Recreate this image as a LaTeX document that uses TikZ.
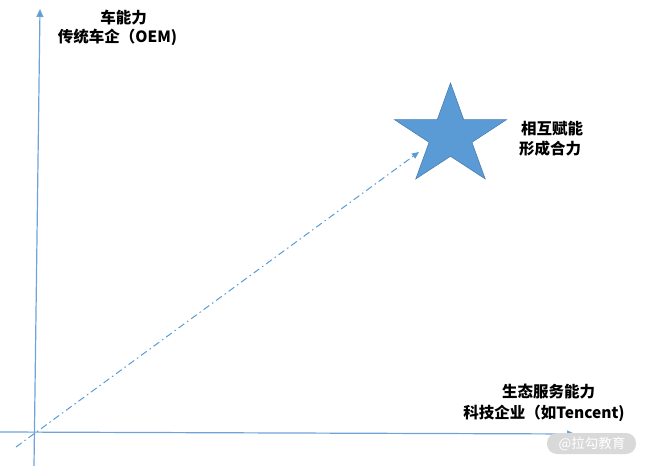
\documentclass[tikz,border=0pt]{standalone}
\usepackage{fontspec}
\newfontfamily\cjk{Noto Sans CJK SC}
\usetikzlibrary{arrows.meta}
\definecolor{axisblue}{HTML}{6FA3D8}
\definecolor{starfill}{HTML}{5B9BD5}
\definecolor{starline}{HTML}{4A7EB0}
\definecolor{wmgray}{HTML}{D9D9D9}
\begin{document}
\begin{tikzpicture}[x=1bp,y=-1bp,
  axis/.style={draw=axisblue, line width=1.2bp, -{Triangle[length=8bp,width=7bp,fill=starfill]}},
  dashdot/.style={draw=starfill, line width=1bp, dash pattern=on 7bp off 3.5bp on 1.5bp off 3.5bp, -{Triangle[length=7bp,width=6bp]}},
  lbl/.style={font=\cjk\bfseries\fontsize{15.5bp}{18bp}\selectfont, inner sep=0pt, text=black},
  starshape/.style={fill=starfill, draw=starline, line width=0.6bp},
  wmbox/.style={fill=wmgray, draw=none, rounded corners=10bp},
  wmtext/.style={font=\cjk\fontsize{13.5bp}{15bp}\selectfont, text=white, inner sep=0pt}]
\useasboundingbox (0,0) rectangle (647,466);
% axes
\coordinate (vb) at (34,466);
\coordinate (vt) at (40,9);
\coordinate (hl) at (0,432);
\coordinate (hr) at (575,434);
\draw[axis] (vb) -- (vt);
\draw[axis] (hl) -- (hr);
% star
\draw[starshape] (450.5,83) -- (463.7,119.6) -- (506.6,119.6) -- (471.9,142.3) -- (485.2,178.9)
  -- (450.5,156.25) -- (415.8,178.9) -- (429.1,142.3) -- (394.4,119.6) -- (437.3,119.6) -- cycle;
% dash-dot arrow
\coordinate (ds) at (16,447);
\coordinate (de) at (419,152);
\draw[dashdot] (ds) -- (de);
% labels
\node[lbl] (ya) at (123.5,18) {车能力};
\node[lbl] (yb) at (117.5,37) {传统车企（OEM)};
\node[lbl] (sa) at (552,129) {相互赋能};
\node[lbl] (sb) at (550,149) {形成合力};
\node[lbl] (xa) at (548.5,392) {生态服务能力};
\node[lbl] (xb) at (544,413) {科技企业（如Tencent)};
% watermark
\path[wmbox] (547,433) rectangle (636,454);
\node[wmtext] (wm) at (592,443.5) {@拉勾教育};
\end{tikzpicture}
\end{document}
